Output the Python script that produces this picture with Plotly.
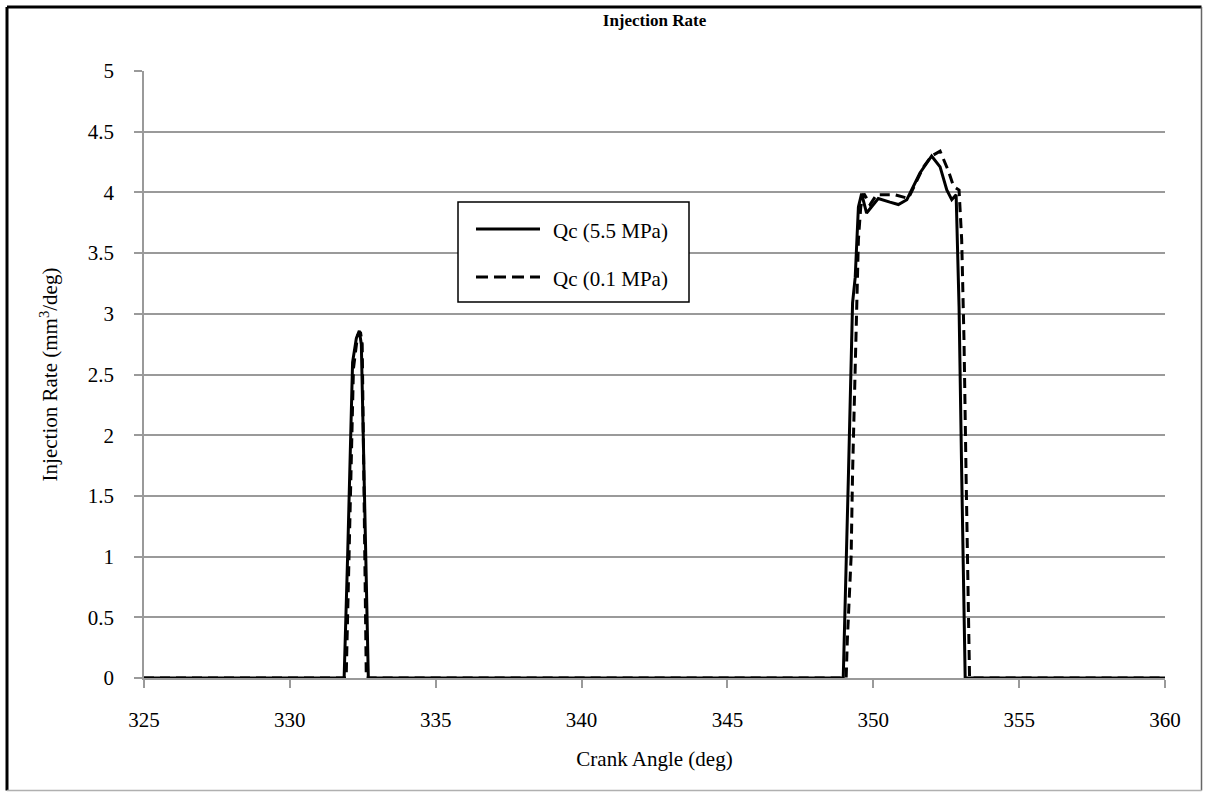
import plotly.graph_objects as go

# ---- data ----
crank_55 = [325, 331.86, 331.98, 332.15, 332.28, 332.38, 332.45, 332.69,
            348.97, 349.09, 349.15, 349.29, 349.38, 349.49, 349.6, 349.77, 349.95,
            350.17, 350.57, 350.86, 351.15, 351.6, 352.0, 352.29, 352.52, 352.69,
            352.84, 352.94, 353.03, 353.15, 360]
rate_55 = [0, 0, 1.0, 2.6, 2.8, 2.86, 2.75, 0,
           0, 1.0, 1.69, 3.09, 3.3, 3.88, 3.99, 3.83, 3.88,
           3.95, 3.92, 3.90, 3.94, 4.16, 4.30, 4.21, 4.02, 3.94,
           3.98, 3.06, 1.69, 0, 0]

crank_01 = [325, 331.93, 332.18, 332.32, 332.42, 332.48, 332.62,
            349.07, 349.11, 349.24, 349.29, 349.37, 349.43, 349.49, 349.57, 349.68,
            349.89, 350.11, 350.75, 351.2, 351.72, 352.0, 352.29, 352.57, 352.75,
            352.94, 353.03, 353.11, 353.18, 353.24, 353.3, 360]
rate_01 = [0, 0, 2.55, 2.82, 2.85, 2.75, 0,
           0, 0.31, 1.0, 1.69, 2.51, 3.06, 3.61, 3.88, 3.99,
           3.90, 3.98, 3.98, 3.95, 4.21, 4.30, 4.34, 4.18, 4.05,
           4.02, 3.61, 2.78, 1.69, 0.86, 0, 0]

series_names = ["Qc (5.5 MPa)", "Qc (0.1 MPa)"]
x_ticks = [325, 330, 335, 340, 345, 350, 355, 360]
y_ticks = [0, 0.5, 1, 1.5, 2, 2.5, 3, 3.5, 4, 4.5, 5]

FONT = "Liberation Serif, Times New Roman, serif"
GRID = "#9a9a9a"

fig = go.Figure()
fig.add_trace(go.Scatter(x=crank_55, y=rate_55, mode="lines", name=series_names[0],
                         line=dict(color="black", width=3), showlegend=False))
fig.add_trace(go.Scatter(x=crank_01, y=rate_01, mode="lines", name=series_names[1],
                         line=dict(color="black", width=3, dash="10px,6px"), showlegend=False))

# plot-area pixel geometry
L, R, T, B = 144, 1165, 71, 678
W, H = R - L, B - T
def px(x):
    return (x - L) / W
def py(y):
    return (B - y) / H

shapes = [
    # outer frame
    dict(type="line", xref="paper", yref="paper", x0=px(7), x1=px(7), y0=py(7), y1=py(790.5),
         line=dict(color="black", width=3)),
    dict(type="line", xref="paper", yref="paper", x0=px(7), x1=px(1201.5), y0=py(7), y1=py(7),
         line=dict(color="black", width=3)),
    dict(type="line", xref="paper", yref="paper", x0=px(1201.5), x1=px(1201.5), y0=py(7), y1=py(790.5),
         line=dict(color="#666666", width=1.5)),
    dict(type="line", xref="paper", yref="paper", x0=px(7), x1=px(1201.5), y0=py(790.5), y1=py(790.5),
         line=dict(color="#b0b0b0", width=1.5)),
    # legend box
    dict(type="rect", xref="paper", yref="paper", x0=px(458), x1=px(689), y0=py(302), y1=py(202),
         line=dict(color="black", width=1.5), fillcolor="white", layer="above"),
    dict(type="line", xref="paper", yref="paper", x0=px(476), x1=px(540), y0=py(229), y1=py(229),
         line=dict(color="black", width=3), layer="above"),
    dict(type="line", xref="paper", yref="paper", x0=px(476), x1=px(540), y0=py(277), y1=py(277),
         line=dict(color="black", width=3, dash="12px,6px"), layer="above"),
]

annotations = [
    dict(xref="paper", yref="paper", x=px(551), y=py(231), xanchor="left", yanchor="middle",
         text=series_names[0], showarrow=False, font=dict(family=FONT, size=21, color="black")),
    dict(xref="paper", yref="paper", x=px(551), y=py(279), xanchor="left", yanchor="middle",
         text=series_names[1], showarrow=False, font=dict(family=FONT, size=21, color="black")),
]

fig.update_layout(
    width=1205, height=792,
    margin=dict(l=L, r=1205 - R, t=T, b=792 - B),
    paper_bgcolor="white", plot_bgcolor="white",
    font=dict(family=FONT, size=21, color="black"),
    title=dict(text="<b>Injection Rate</b>", x=0.5, xref="paper", xanchor="center",
               y=1 - 20 / 792, yanchor="middle", font=dict(family=FONT, size=17, color="black")),
    shapes=shapes,
    annotations=annotations,
    showlegend=False,
)

fig.update_xaxes(
    range=[325, 360], tickvals=x_ticks, ticktext=[str(v) for v in x_ticks],
    showgrid=False, zeroline=False,
    showline=True, linecolor=GRID, linewidth=1.5,
    ticks="outside", ticklen=8, tickcolor=GRID, tickwidth=1.5,
    tickfont=dict(family=FONT, size=21, color="black"),
    ticklabelstandoff=14,
    title=dict(text="Crank Angle (deg)", font=dict(family=FONT, size=21, color="black"), standoff=20),
)
fig.update_yaxes(
    range=[0, 5], tickvals=y_ticks, ticktext=[("%g" % v) for v in y_ticks],
    showgrid=True, gridcolor=GRID, gridwidth=1.5, zeroline=False,
    showline=True, linecolor=GRID, linewidth=1.5,
    ticks="outside", ticklen=8, tickcolor=GRID, tickwidth=1.5,
    tickfont=dict(family=FONT, size=21, color="black"),
    ticklabelstandoff=16,
    title=dict(text="Injection Rate (mm<sup>3</sup>/deg)", font=dict(family=FONT, size=21, color="black"),
               standoff=24),
)

fig.write_html("out.html")
